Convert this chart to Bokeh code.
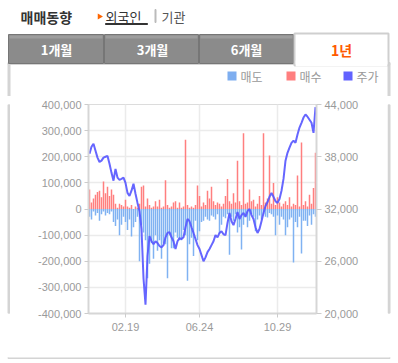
from bokeh.plotting import figure
from bokeh.models import Range1d, LinearAxis, FixedTicker, NumeralTickFormatter
from bokeh.layouts import column, row
from bokeh.core.properties import value
from bokeh.embed import file_html
from bokeh.resources import INLINE

# ---- data ----
tick_pos = [18, 55, 94]
tick_labels = ["02.19", "06.24", "10.29"]

buy = [75, 25, 40, 55, 65, 70, 45, 105, 60, 85, 50, 75, 55, 20, 5, 20, 15, 10, 35, 10,
       5, 15, 0, 10, 5, 20, 85, 90, 10, 40, 15, 5, 10, 30, 10, 35, 5, 10, 110, 15,
       5, 10, 25, 30, 5, 25, 5, 10, 265, 15, 5, 10, 5, 15, 90, 50, 10, 25, 15, 70,
       40, 85, 30, 15, 25, 20, 10, 20, 50, 115, 30, 20, 60, 25, 185, 30, 15, 290, 20, 25,
       75, 30, 35, 10, 20, 50, 15, 290, 25, 40, 205, 20, 100, 15, 45, 25, 10, 20, 30, 15,
       45, 10, 20, 15, 128, 10, 255, 15, 30, 10, 55, 20, 80, 215]
buy = [v * 1000 for v in buy]

sell = [30, 40, 10, 25, 15, 45, 20, 10, 25, 15, 20, 10, 50, 65, 40, 100, 60, 30, 50, 80,
        40, 105, 70, 50, 30, 200, 60, 90, 120, 265, 210, 130, 190, 100, 160, 120, 190, 130, 135, 265,
        100, 150, 150, 90, 110, 120, 120, 80, 100, 275, 135, 110, 180, 45, 120, 85, 50, 45, 30, 40,
        45, 25, 30, 40, 20, 95, 60, 30, 35, 20, 175, 30, 45, 20, 90, 70, 155, 60, 30, 70,
        45, 20, 30, 85, 40, 25, 40, 20, 30, 33, 15, 20, 30, 100, 25, 60, 30, 40, 100, 70,
        40, 33, 205, 50, 70, 30, 170, 45, 45, 65, 25, 60, 20, 30]
sell = [-v * 1000 for v in sell]

price = [38350, 39150, 39500, 38700, 37900, 37400, 37550, 37900, 38000, 38100,
         37200, 36150, 35250, 36600, 35600, 35350, 35450, 35600, 35000, 33850,
         33500, 34100, 34900, 33750, 32700, 31750, 29700, 24050, 21000, 26600,
         28900, 28300, 27950, 28300, 28100, 27750, 27600, 27850, 28750, 29250,
         29350, 28750, 28300, 27400, 28300, 28650, 28550, 28750, 29900, 30850,
         30600, 29900, 29250, 28550, 27850, 27400, 26700, 26000, 26450, 27050,
         27400, 27850, 28300, 29000, 28750, 29250, 29450, 29100, 29000, 30400,
         31550, 30600, 30150, 30850, 31650, 30850, 31300, 31550, 31100, 31750,
         32000, 31300, 30850, 29900, 29250, 29700, 30600, 31550, 32350, 32800,
         33400, 33850, 33400, 32900, 32700, 33150, 34100, 35450, 37550, 38450,
         39050, 39600, 39850, 39600, 40550, 41350, 41900, 42500, 42850, 42600,
         42250, 41900, 40750, 43700]

idx = list(range(len(buy)))

left_ticks = list(range(-400000, 400001, 100000))
right_ticks = [20000, 26000, 32000, 38000, 44000]

tab_labels = ["1개월", "3개월", "6개월", "1년"]
legend_labels = ["매도", "매수", "주가"]
legend_colors = ["#7eaef0", "#ff7f7f", "#6262ff"]

KR = "Noto Sans CJK KR"
NUM = "Liberation Sans"
BORDER = "#d4d4d4"


def canvas_fig(w, h):
    f = figure(width=w, height=h, output_backend="svg", toolbar_location=None, title=None,
               x_range=Range1d(0, w), y_range=Range1d(h, 0),
               x_axis_location=None, y_axis_location=None, min_border=0,
               background_fill_color="white", border_fill_color="white")
    f.outline_line_color = None
    f.grid.visible = False
    return f


# ---------------- header (page y 0..96) ----------------
H = canvas_fig(398, 96)
# panel side borders (upper part)
H.quad(left=[7.5, 387.5], right=[9.5, 389.5], top=[63, 63], bottom=[96, 96], color=BORDER)
# panel top border
H.quad(left=[7.5], right=[389.5], top=[62], bottom=[64], color=BORDER)
# inactive tabs
tl = [8, 104, 199]
tr = [103, 198, 293]
H.quad(left=tl, right=tr, top=[34] * 3, bottom=[63] * 3, fill_color="#8b8b8b", line_color="#767676")
H.quad(left=[l + 1 for l in tl], right=[r - 1 for r in tr], top=[35] * 3, bottom=[38] * 3,
       fill_color="#9d9d9d", line_color=None)
# active tab
H.quad(left=[294], right=[388], top=[33], bottom=[65], fill_color="white", line_color="#cfcfcf", line_width=2)
H.quad(left=[295.2], right=[386.8], top=[60], bottom=[66], fill_color="white", line_color=None)
H.text(x=[56, 152, 246], y=[49] * 3, text=tab_labels[:3], text_font=value(KR), text_font_size="13px",
       text_font_style="bold", text_color="white", text_align="center", text_baseline="middle")
H.text(x=[341], y=[49], text=tab_labels[3:], text_font=value(KR), text_font_size="14px",
       text_font_style="bold", text_color="#ff5a00", text_align="center", text_baseline="middle")
# title row
H.text(x=[20], y=[16], text=["매매동향"], text_font=value(KR), text_font_size="14px",
       text_font_style="bold", text_color="#333333", text_baseline="middle")
H.triangle(x=[99], y=[16], size=6, angle=-1.5708, fill_color="#ff6600", line_color=None)
H.text(x=[105], y=[16], text=["외국인"], text_font=value(KR), text_font_size="13px",
       text_color="#333333", text_baseline="middle")
H.quad(left=[105], right=[147], top=[23], bottom=[24], color="#333333")
H.quad(left=[154.5], right=[155.5], top=[9], bottom=[22], color="#bbbbbb")
H.text(x=[161], y=[16], text=["기관"], text_font=value(KR), text_font_size="13px",
       text_color="#555555", text_baseline="middle")
# legend
lx = [227, 286, 343]
H.quad(left=lx, right=[x + 9 for x in lx], top=[71] * 3, bottom=[80] * 3,
       fill_color=legend_colors, line_color=None)
H.text(x=[x + 13 for x in lx], y=[76] * 3, text=legend_labels, text_font=value(KR),
       text_font_size="12px", text_color="#999999", text_baseline="middle")

# ---------------- side strips ----------------
L = canvas_fig(10, 258)
L.quad(left=[7.5], right=[9.5], top=[0], bottom=[258], color=BORDER)
R = canvas_fig(11, 258)
R.quad(left=[0.5], right=[2.5], top=[0], bottom=[258], color=BORDER)

# ---------------- footer ----------------
F = canvas_fig(398, 9)
F.quad(left=[7.5], right=[389.5], top=[-1], bottom=[1], color=BORDER)

# ---------------- main chart ----------------
p = figure(width=377, height=258, output_backend="svg", toolbar_location=None, title=None,
           x_range=Range1d(-0.5, 113.5), y_range=Range1d(-400000, 400000),
           min_border_left=78, min_border_right=71, min_border_top=8, min_border_bottom=41,
           background_fill_color="white", border_fill_color="white")
p.outline_line_color = "#dcdcdc"
p.outline_line_width = 1
p.extra_y_ranges = {"price": Range1d(20000, 44000)}

p.xgrid.ticker = FixedTicker(ticks=tick_pos)
p.ygrid.ticker = FixedTicker(ticks=left_ticks)
p.xgrid.grid_line_color = "#ebebeb"
p.ygrid.grid_line_color = "#ebebeb"
p.xgrid.grid_line_width = 1.5
p.ygrid.grid_line_width = 1.5


def style_axis(ax):
    ax.axis_line_color = "#d6d6d6"
    ax.axis_line_width = 2
    ax.major_tick_line_color = "#cccccc"
    ax.minor_tick_line_color = None
    ax.major_tick_in = 0
    ax.major_tick_out = 4
    ax.major_label_text_color = "#9a9a9a"
    ax.major_label_text_font = NUM
    ax.major_label_text_font_size = "11px"


p.xaxis.ticker = FixedTicker(ticks=tick_pos)
p.xaxis.major_label_overrides = {t: l for t, l in zip(tick_pos, tick_labels)}
p.yaxis.ticker = FixedTicker(ticks=left_ticks)
p.yaxis.formatter = NumeralTickFormatter(format="0,0")
for ax in p.xaxis + p.yaxis:
    style_axis(ax)
p.yaxis.major_label_standoff = 3
p.xaxis.major_label_standoff = 5

right = LinearAxis(y_range_name="price", ticker=FixedTicker(ticks=right_ticks),
                   formatter=NumeralTickFormatter(format="0,0"))
style_axis(right)
right.major_tick_out = 5
right.major_label_standoff = 3
p.add_layout(right, "right")

p.vbar(x=idx, top=buy, bottom=0, width=0.75, fill_color="#ff7f7f", line_color=None)
p.vbar(x=idx, top=0, bottom=sell, width=0.75, fill_color="#80b2f2", line_color=None)
p.line(x=idx, y=price, y_range_name="price", line_color="#5555ff", line_width=2, line_alpha=0.9)

page = column(H, row(L, p, R), F)
open("out.html", "w").write(file_html(page, INLINE))
